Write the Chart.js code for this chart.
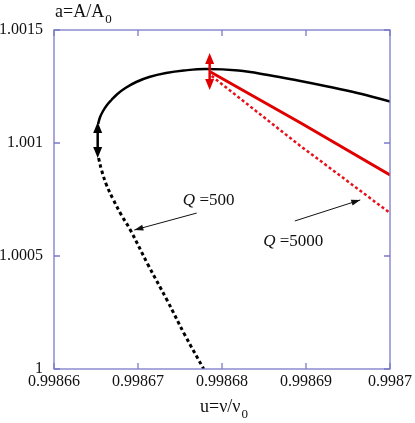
<!DOCTYPE html>
<html>
<head>
<meta charset="utf-8">
<script src="https://cdn.jsdelivr.net/npm/chart.js@4.4.0/dist/chart.umd.min.js"></script>
<style>
  html, body { margin: 0; padding: 0; background: #fff; }
  #wrap { width: 415px; height: 423px; }
</style>
</head>
<body>
<div id="wrap"><canvas id="c" width="415" height="423"></canvas></div>
<script>
// axis ticks
const xTicks = [0.99866, 0.99867, 0.99868, 0.99869, 0.99870];
const xTickLabels = ['0.99866', '0.99867', '0.99868', '0.99869', '0.9987'];
const yTicks = [1, 1.0005, 1.001, 1.0015];
const yTickLabels = ['1', '1.0005', '1.001', '1.0015'];

// Q = 500, stable branch (solid black)
const q500StableU = [0.99866525, 0.99866549, 0.99866584, 0.99866631, 0.99866684, 0.99866755, 0.9986685,
  0.99866979, 0.99867133, 0.99867333, 0.99867546, 0.99867805, 0.99868195, 0.99868549, 0.99868903,
  0.99869257, 0.99869611, 0.99870];
const q500StableA = [1.0010841, 1.0011150, 1.0011416, 1.0011681, 1.0011903, 1.0012168, 1.0012434,
  1.0012699, 1.0012920, 1.0013097, 1.0013208, 1.0013274, 1.0013208, 1.0013009, 1.0012765,
  1.0012500, 1.0012212, 1.0011836];

// Q = 500, unstable branch (dotted black)
const q500UnstableU = [0.99866531, 0.99866566, 0.99866625, 0.99866708, 0.99866802, 0.99866909,
  0.99867121, 0.99867345, 0.99867558, 0.99867782];
const q500UnstableA = [1.0009336, 1.0008805, 1.0008142, 1.0007478, 1.0006814, 1.0006150,
  1.0004602, 1.0003053, 1.0001504, 1.0];

// Q = 5000 (red)
const q5000StableU = [0.99867864, 0.99868938, 0.99870];
const q5000StableA = [1.0013142, 1.0010885, 1.0008584];
const q5000UnstableU = [0.99867876, 0.99868903, 0.99870];
const q5000UnstableA = [1.0012965, 1.0009956, 1.0006903];

const pts = (us, as) => us.map((u, i) => ({ x: u, y: as[i] }));

// annotations (data coordinates)
const jumpBlack = { u: 0.9986652, a1: 1.001093, a2: 1.000934 };
const jumpRed = { u: 0.99867853, a1: 1.001398, a2: 1.0012345 };
const label500 = { u: 0.99867534, a: 1.000725, text: ' =500', from: [0.99867699, 1.00069], to: [0.99866956, 1.000615] };
const label5000 = { u: 0.9986849, a: 1.000544, text: ' =5000', from: [0.99868867, 1.000655], to: [0.99869646, 1.000748] };

const frameColor = '#7a7ac6';
const serif = '"Liberation Serif", "DejaVu Serif", serif';

function arrowHead(ctx, x1, y1, x2, y2, len, half) {
  const ang = Math.atan2(y2 - y1, x2 - x1);
  ctx.beginPath();
  ctx.moveTo(x2, y2);
  ctx.lineTo(x2 - len * Math.cos(ang) + half * Math.sin(ang), y2 - len * Math.sin(ang) - half * Math.cos(ang));
  ctx.lineTo(x2 - len * Math.cos(ang) - half * Math.sin(ang), y2 - len * Math.sin(ang) + half * Math.cos(ang));
  ctx.closePath();
  ctx.fill();
}

function doubleArrow(ctx, x, y1, y2, color) {
  ctx.save();
  ctx.strokeStyle = color;
  ctx.fillStyle = color;
  ctx.lineWidth = 2.5;
  ctx.beginPath();
  ctx.moveTo(x, y1 + 6);
  ctx.lineTo(x, y2 - 6);
  ctx.stroke();
  arrowHead(ctx, x, y2, x, y1, 11, 4.5);
  arrowHead(ctx, x, y1, x, y2, 11, 4.5);
  ctx.restore();
}

function textWithSub(ctx, x, y, main, sub, size, subSize) {
  ctx.font = size + 'px ' + serif;
  ctx.fillText(main, x, y);
  const w = ctx.measureText(main).width;
  ctx.font = subSize + 'px ' + serif;
  ctx.fillText(sub, x + w + 1, y + 6);
}

const decorPlugin = {
  id: 'decor',
  afterDatasetsDraw(chart) {
    const { ctx, chartArea: a, scales: { x, y } } = chart;
    ctx.save();
    // frame
    ctx.strokeStyle = frameColor;
    ctx.lineWidth = 1.3;
    ctx.strokeRect(a.left, a.top, a.right - a.left, a.bottom - a.top);
    // inward ticks on all sides
    ctx.beginPath();
    xTicks.forEach(v => {
      const px = x.getPixelForValue(v);
      ctx.moveTo(px, a.bottom); ctx.lineTo(px, a.bottom - 6);
      ctx.moveTo(px, a.top); ctx.lineTo(px, a.top + 6);
    });
    yTicks.forEach(v => {
      const py = y.getPixelForValue(v);
      ctx.moveTo(a.left, py); ctx.lineTo(a.left + 6, py);
      ctx.moveTo(a.right, py); ctx.lineTo(a.right - 6, py);
    });
    ctx.stroke();

    // jump arrows
    doubleArrow(ctx, x.getPixelForValue(jumpBlack.u), y.getPixelForValue(jumpBlack.a1), y.getPixelForValue(jumpBlack.a2), '#000');
    doubleArrow(ctx, x.getPixelForValue(jumpRed.u), y.getPixelForValue(jumpRed.a1), y.getPixelForValue(jumpRed.a2), '#e00000');

    // Q labels with pointer arrows
    ctx.fillStyle = '#111';
    ctx.strokeStyle = '#111';
    [label500, label5000].forEach(l => {
      const fx = x.getPixelForValue(l.from[0]), fy = y.getPixelForValue(l.from[1]);
      const tx = x.getPixelForValue(l.to[0]), ty = y.getPixelForValue(l.to[1]);
      ctx.lineWidth = 1;
      ctx.beginPath();
      ctx.moveTo(fx, fy); ctx.lineTo(tx, ty);
      ctx.stroke();
      arrowHead(ctx, fx, fy, tx, ty, 9, 3);
      const px = x.getPixelForValue(l.u), py = y.getPixelForValue(l.a);
      ctx.font = 'italic 17px ' + serif;
      ctx.fillText('Q', px, py);
      const w = ctx.measureText('Q').width;
      ctx.font = '17px ' + serif;
      ctx.fillText(l.text, px + w, py);
    });

    // axis titles
    ctx.fillStyle = '#111';
    ctx.textBaseline = 'alphabetic';
    textWithSub(ctx, 55, 17, 'a=A/A', '0', 18, 13);
    textWithSub(ctx, 200, 412, 'u=\u03bd/\u03bd', '0', 18, 13);
    ctx.restore();
  }
};

new Chart(document.getElementById('c'), {
  type: 'scatter',
  data: {
    datasets: [
      { data: pts(q500StableU, q500StableA), showLine: true, borderColor: '#000', borderWidth: 2.5, tension: 0.4, pointRadius: 0 },
      { data: pts(q500UnstableU, q500UnstableA), showLine: true, borderColor: '#000', borderWidth: 3, borderDash: [3.5, 3], tension: 0.4, pointRadius: 0 },
      { data: pts(q5000StableU, q5000StableA), showLine: true, borderColor: '#e00000', borderWidth: 3, pointRadius: 0 },
      { data: pts(q5000UnstableU, q5000UnstableA), showLine: true, borderColor: '#e8101a', borderWidth: 2.5, borderDash: [3, 2.5], pointRadius: 0 }
    ]
  },
  options: {
    responsive: false,
    animation: false,
    devicePixelRatio: 1,
    layout: { padding: { top: 30, right: 22, left: 0, bottom: 0 } },
    plugins: { legend: { display: false }, tooltip: { enabled: false } },
    scales: {
      x: {
        type: 'linear', min: 0.99866, max: 0.9987,
        grid: { display: false, drawTicks: false }, border: { display: false },
        afterBuildTicks: s => { s.ticks = xTicks.map(v => ({ value: v })); },
        afterFit: s => { s.height = 54; },
        ticks: { padding: 3, color: '#111', font: { family: serif, size: 16 }, maxRotation: 0, autoSkip: false,
          callback: (v, i) => xTickLabels[i] }
      },
      y: {
        type: 'linear', min: 1, max: 1.0015,
        grid: { display: false, drawTicks: false }, border: { display: false },
        afterBuildTicks: s => { s.ticks = yTicks.map(v => ({ value: v })); },
        afterFit: s => { s.width = 54; },
        ticks: { padding: 11, color: '#111', font: { family: serif, size: 16 }, autoSkip: false,
          callback: (v, i) => yTickLabels[i] }
      }
    }
  },
  plugins: [decorPlugin]
});
</script>
</body>
</html>
